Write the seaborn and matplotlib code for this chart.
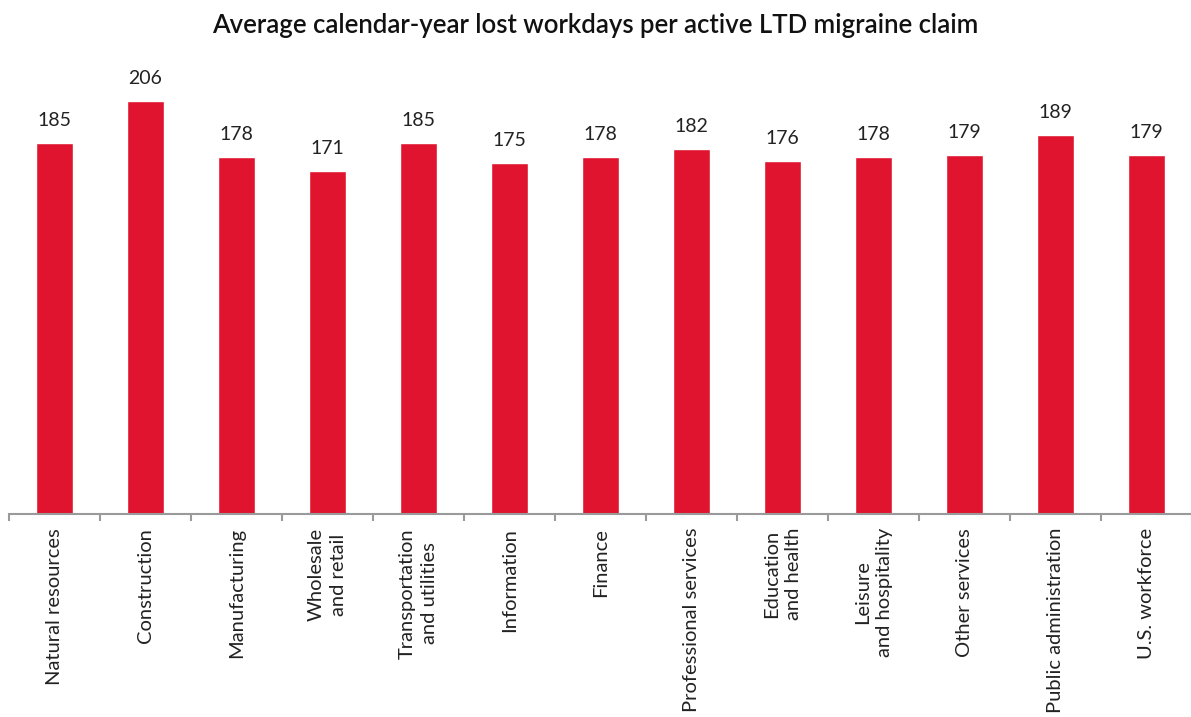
import matplotlib.pyplot as plt
import seaborn as sns
import pandas as pd
import numpy as np

# data
industries = [
    "Natural resources", "Construction", "Manufacturing", "Wholesale\nand retail",
    "Transportation\nand utilities", "Information", "Finance", "Professional services",
    "Education\nand health", "Leisure\nand hospitality", "Other services",
    "Public administration", "U.S. workforce",
]
lost_days = [185, 206, 178, 171, 185, 175, 178, 182, 176, 178, 179, 189, 179]

df = pd.DataFrame({"industry": industries, "days": lost_days})

sns.set_style("white")
plt.rcParams["font.family"] = ["Lato", "DejaVu Sans"]

fig = plt.figure(figsize=(11.91, 7.17), dpi=100)
ax = fig.add_axes([9 / 1191, 203 / 717, 1183 / 1191, 461 / 717])

sns.barplot(data=df, x="industry", y="days", color="#E0142F", width=0.41,
            saturation=1, ax=ax)

for i, v in enumerate(lost_days):
    ax.annotate(str(v), (i, v), xytext=(0, 10), textcoords="offset points",
                ha="center", va="bottom", fontsize=14, color="#222222")

ax.set_xlim(-0.5, len(industries) - 0.5)
ax.set_ylim(0, 230)
ax.set_yticks([])
ax.set_xlabel("")
ax.set_ylabel("")
for s in ["top", "right", "left"]:
    ax.spines[s].set_visible(False)
ax.spines["bottom"].set_color("#9a9a9a")
ax.spines["bottom"].set_linewidth(1.5)

ax.set_xticks(range(len(industries)))
ax.set_xticklabels(industries, rotation=90, ha="center", va="top",
                   multialignment="center", linespacing=1.35,
                   fontsize=14.5, color="#222222")
ax.tick_params(axis="x", which="major", length=0, pad=10)
ax.set_xticks(np.arange(-0.5, len(industries), 1), minor=True)
ax.tick_params(axis="x", which="minor", length=5, width=1.5, color="#9a9a9a",
               direction="out", bottom=True)

fig.suptitle("Average calendar-year lost workdays per active LTD migraine claim",
             x=0.5, y=0.982, fontsize=18.5, fontweight="semibold", color="#111111")

fig.savefig("out.png", dpi=100)
